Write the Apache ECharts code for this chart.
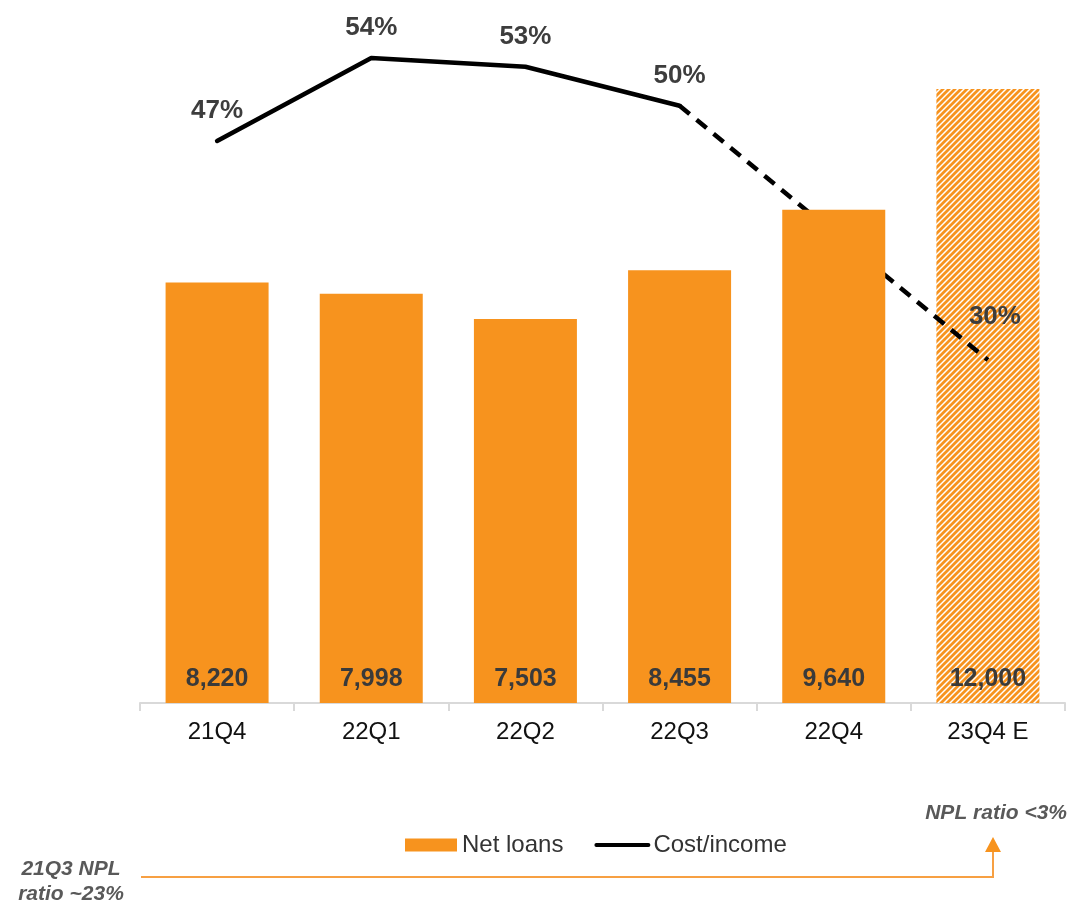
<!DOCTYPE html>
<html>
<head>
<meta charset="utf-8">
<script src="https://cdn.jsdelivr.net/npm/echarts@6/dist/echarts.min.js"></script>
<style>
html,body{margin:0;padding:0;background:#fff;}
#chart{width:1068px;height:902px;}
</style>
</head>
<body>
<div id="chart"></div>
<script>
const categories = ['21Q4', '22Q1', '22Q2', '22Q3', '22Q4', '23Q4 E'];
const netLoans = [8220, 7998, 7503, 8455, 9640, 12000];
const costIncome = [47.4, 54, 53.3, 50.2, null, 30];
const actualCount = 4;      // 21Q4..22Q3 are actual (solid line)
const estimateIndex = 5;    // 23Q4 E is an estimate (hatched bar)

const ORANGE = '#F7931E';
const FONT = 'Arial, "Liberation Sans", sans-serif';

function hatch() {
  const p = 6;
  const c = document.createElement('canvas');
  c.width = p; c.height = p;
  const g = c.getContext('2d');
  g.fillStyle = '#fff';
  g.fillRect(0, 0, p, p);
  g.strokeStyle = ORANGE;
  g.lineWidth = 2.8;
  g.beginPath();
  g.moveTo(0, p); g.lineTo(p, 0);
  g.moveTo(-p / 2, p / 2); g.lineTo(p / 2, -p / 2);
  g.moveTo(p / 2, p * 1.5); g.lineTo(p * 1.5, p / 2);
  g.stroke();
  return c;
}

const solidBars = netLoans.map((v, i) => i === estimateIndex ? null : v);
const hatchBars = netLoans.map((v, i) => i === estimateIndex ? v : null);
const solidLine = costIncome.map((v, i) => i < actualCount ? v : null);
const dashLine = costIncome.map((v, i) => i >= actualCount - 1 ? v : null);

const barLabel = {
  show: true,
  position: 'insideBottom',
  distance: 11,
  fontFamily: FONT,
  fontWeight: 'bold',
  fontSize: 25,
  color: '#3a3a3a',
  formatter: p => p.value == null ? '' : p.value.toLocaleString('en-US')
};
const lineText = {fontFamily: FONT, fontWeight: 'bold', fontSize: 26, color: '#3d3d3d'};

const chart = echarts.init(document.getElementById('chart'), null, {renderer: 'canvas'});
chart.setOption({
  animation: false,
  backgroundColor: '#fff',
  grid: {left: 140, right: 3, top: 37.8, bottom: 199},
  legend: {
    left: 405, top: 833, padding: 0,
    itemWidth: 52, itemHeight: 13, itemGap: 31,
    data: [
      {name: 'Net loans', icon: 'rect'},
      {name: 'Cost/income', itemStyle: {opacity: 0}, lineStyle: {width: 4, color: '#000'}}
    ],
    textStyle: {fontFamily: FONT, fontSize: 24, color: '#333'}
  },
  xAxis: {
    type: 'category',
    data: categories,
    axisLine: {lineStyle: {color: '#d9d9d9', width: 2}},
    axisTick: {show: true, length: 8, lineStyle: {color: '#d9d9d9', width: 2}},
    axisLabel: {fontFamily: FONT, fontSize: 24, color: '#111', margin: 17}
  },
  yAxis: [
    {type: 'value', min: 0, max: 13000, show: false, splitLine: {show: false}},
    {type: 'value', min: 2.74, max: 55.6, show: false, splitLine: {show: false}}
  ],
  series: [
    {
      name: 'Net loans',
      type: 'bar',
      data: solidBars,
      barWidth: 103,
      barGap: '-100%',
      z: 3,
      itemStyle: {color: ORANGE},
      label: barLabel
    },
    {
      name: 'Net loans E',
      type: 'bar',
      data: hatchBars,
      barWidth: 103,
      barGap: '-100%',
      z: 1,
      itemStyle: {color: {image: hatch(), repeat: 'repeat'}},
      label: barLabel
    },
    {
      name: 'Cost/income',
      type: 'line',
      yAxisIndex: 1,
      data: solidLine,
      z: 2,
      symbol: 'circle',
      symbolSize: 0.1,
      itemStyle: {color: '#000'},
      lineStyle: {color: '#000', width: 4.5, cap: 'round', join: 'round'},
      label: Object.assign({
        show: true, position: 'top', distance: 17,
        formatter: p => p.value == null ? '' : Math.round(p.value) + '%'
      }, lineText)
    },
    {
      name: 'Cost/income E',
      type: 'line',
      yAxisIndex: 1,
      data: dashLine,
      connectNulls: true,
      z: 2,
      symbol: 'circle',
      symbolSize: 0.1,
      itemStyle: {color: '#000'},
      lineStyle: {color: '#000', width: 4.5, type: [13, 9]},
      label: Object.assign({
        show: true, position: 'top', distance: 17, offset: [7, -13],
        formatter: p => (p.dataIndex === estimateIndex && p.value != null) ? Math.round(p.value) + '%' : ''
      }, lineText)
    }
  ],
  graphic: [
    {
      type: 'text',
      style: {
        text: '21Q3 NPL\nratio ~23%',
        x: 71, y: 882,
        textAlign: 'center', textVerticalAlign: 'middle',
        font: 'italic bold 21px ' + FONT,
        lineHeight: 25,
        fill: '#595959'
      }
    },
    {
      type: 'text',
      style: {
        text: 'NPL ratio <3%',
        x: 1067, y: 813,
        textAlign: 'right', textVerticalAlign: 'middle',
        font: 'italic bold 21px ' + FONT,
        fill: '#595959'
      }
    },
    {
      type: 'polyline',
      shape: {points: [[141, 877], [993, 877], [993, 850]]},
      style: {stroke: '#F7A043', lineWidth: 2, fill: null}
    },
    {
      type: 'polygon',
      shape: {points: [[985, 852], [1001, 852], [993, 837]]},
      style: {fill: ORANGE}
    }
  ]
});
</script>
</body>
</html>
